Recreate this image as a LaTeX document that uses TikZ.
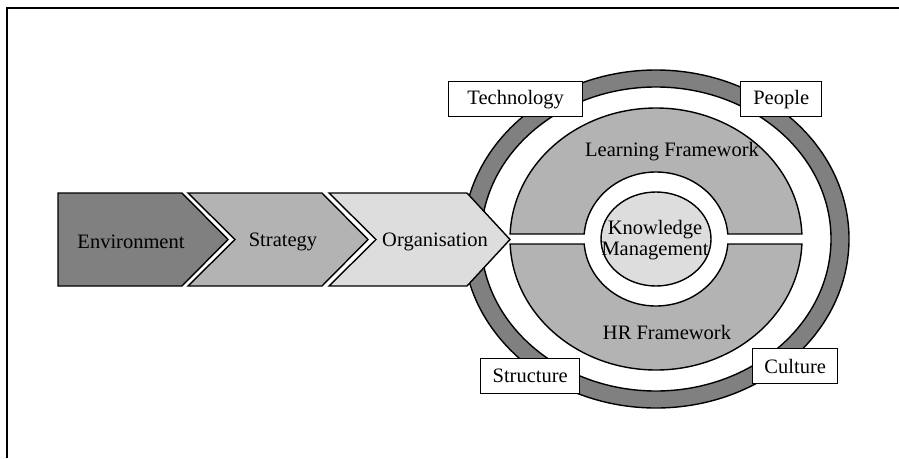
\documentclass[tikz,border=0pt]{standalone}
\usepackage{fontspec}
\setmainfont{Liberation Serif}
\usetikzlibrary{calc}
\definecolor{darkfill}{RGB}{128,128,128}
\definecolor{midfill}{RGB}{179,179,179}
\definecolor{lightfill}{RGB}{221,221,221}
\begin{document}
\begin{tikzpicture}[x=1pt,y=-1pt,
  outline/.style={draw=black,line width=1.4pt,line join=miter},
  lbl/.style={font=\fontsize{20.5}{21}\selectfont,inner sep=0pt},
  tagbox/.style={outline,fill=white,font=\fontsize{20.5}{21}\selectfont,inner sep=0pt,anchor=north west}]
\useasboundingbox (0,0) rectangle (899,458);

% frame
\draw[line width=1.4pt] (7,458) -- (7,8) -- (899,8);

\coordinate (c) at (656,239);

% outer dark ring
\filldraw[outline,fill=darkfill] (c) ellipse[x radius=193,y radius=169];
\filldraw[outline,fill=white] (c) ellipse[x radius=175,y radius=152];

% upper half: learning framework
\filldraw[outline,fill=midfill]
  ($(c)+(-2.19:146 and 131)$) arc[start angle=-2.19,end angle=-177.81,x radius=146,y radius=131]
  -- ($(c)+(-175.72:72 and 67)$) arc[start angle=-175.72,end angle=-4.28,x radius=72,y radius=67]
  -- cycle;
% lower half: HR framework
\filldraw[outline,fill=midfill]
  ($(c)+(2.19:146 and 131)$) arc[start angle=2.19,end angle=177.81,x radius=146,y radius=131]
  -- ($(c)+(175.72:72 and 67)$) arc[start angle=175.72,end angle=4.28,x radius=72,y radius=67]
  -- cycle;

% knowledge management core
\filldraw[outline,fill=lightfill] (c) ellipse[x radius=55,y radius=47];
\node[lbl,align=center] (km) at (655,240) {Knowledge\\Management};
\node[lbl] (lf) at (672,152) {Learning Framework};
\node[lbl] (hr) at (667,332) {HR Framework};

% process chevrons
\filldraw[outline,fill=darkfill] (58,193) -- (182,193) -- (228,239.5) -- (182,286) -- (58,286) -- cycle;
\filldraw[outline,fill=midfill] (188,193) -- (322,193) -- (368,239.5) -- (322,286) -- (188,286) -- (235,239.5) -- cycle;
\filldraw[outline,fill=lightfill] (329,193) -- (467,193) -- (510,239.5) -- (467,286) -- (329,286) -- (376,239.5) -- cycle;
\node[lbl] (env) at (131,242) {Environment};
\node[lbl] (str) at (283,242) {Strategy};
\node[lbl] (org) at (435,242) {Organisation};

% context labels around the ring
\node[tagbox,minimum width=134,minimum height=35] (tech) at (448,81) {Technology};
\node[tagbox,minimum width=81,minimum height=35] (peop) at (740,81) {People};
\node[tagbox,minimum width=99,minimum height=35] (stru) at (480,358) {Structure};
\node[tagbox,minimum width=85,minimum height=35] (cult) at (752,348) {Culture};
\end{tikzpicture}
\end{document}
